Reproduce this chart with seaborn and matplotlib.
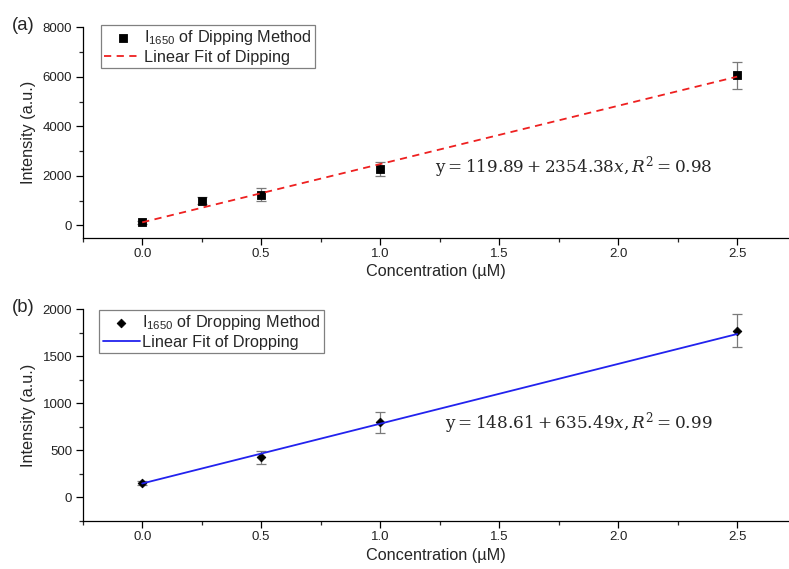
import numpy as np
import pandas as pd
import matplotlib
matplotlib.use("Agg")
import matplotlib.pyplot as plt
from matplotlib.ticker import MultipleLocator
import seaborn as sns

# Dipping method: I1650 intensity vs concentration
dip_conc = [0.0, 0.25, 0.5, 1.0, 2.5]
dip_int = [120, 1000, 1240, 2270, 6060]
dip_err = [50, 150, 270, 275, 540]
dip_fit = (119.89, 2354.38)
dip_r2 = 0.98

# Dropping method: I1650 intensity vs concentration
drop_conc = [0.0, 0.5, 1.0, 2.5]
drop_int = [155, 425, 798, 1772]
drop_err = [20, 70, 108, 174]
drop_fit = (148.61, 635.49)
drop_r2 = 0.99

sns.set_style("ticks")
plt.rcParams["font.family"] = ["Liberation Sans", "DejaVu Sans"]
plt.rcParams["mathtext.fontset"] = "dejavuserif"

W, H = 789, 569
fig = plt.figure(figsize=(W / 100, H / 100), dpi=100)


def px_axes(left, top, right, bottom):
    return fig.add_axes([left / W, 1 - bottom / H, (right - left) / W, (bottom - top) / H])


ax_a = px_axes(82.7, 27.3, 789, 237.7)
ax_b = px_axes(82.7, 309.3, 789, 521.0)


def draw_panel(ax, conc, inten, err, fit, r2, marker, msize, line_color, line_style,
               pt_label, fit_label, ylim, ymajor, panel, legend_anchor, eq_y):
    df = pd.DataFrame({"Concentration": conc, "Intensity": inten})
    ax.errorbar(conc, inten, yerr=err, fmt="none", ecolor="#7a7a7a",
                elinewidth=0.9, capsize=3.5, capthick=0.9, zorder=2)
    sns.scatterplot(data=df, x="Concentration", y="Intensity", ax=ax, marker=marker,
                    s=msize ** 2, color="black", edgecolor="black", linewidth=0.6,
                    label=pt_label, zorder=3)
    xs = np.array([min(conc), max(conc)])
    fit_df = pd.DataFrame({"Concentration": xs, "Intensity": fit[0] + fit[1] * xs})
    sns.lineplot(data=fit_df, x="Concentration", y="Intensity", ax=ax,
                 color=line_color, linestyle=line_style, linewidth=1.3,
                 label=fit_label, zorder=4)

    ax.set_xlim(-0.25, 2.718)
    ax.set_ylim(*ylim)
    ax.xaxis.set_major_locator(MultipleLocator(0.5))
    ax.xaxis.set_minor_locator(MultipleLocator(0.25))
    ax.yaxis.set_major_locator(MultipleLocator(ymajor))
    ax.yaxis.set_minor_locator(MultipleLocator(ymajor / 2))
    ax.xaxis.set_major_formatter(matplotlib.ticker.FormatStrFormatter("%.1f"))
    ax.tick_params(which="major", direction="out", length=5, width=0.9,
                   labelsize=9.5, colors="black", labelcolor="#222222", pad=2.5)
    ax.tick_params(which="minor", direction="out", length=3, width=0.9)
    sns.despine(ax=ax)
    for s in ("left", "bottom"):
        ax.spines[s].set_linewidth(0.9)
        ax.spines[s].set_color("black")

    ax.set_xlabel("Concentration (\u00b5M)", fontsize=11.7, labelpad=3)
    ax.set_ylabel("Intensity (a.u.)", fontsize=11.7, labelpad=5)

    leg = ax.legend(loc="upper left", bbox_to_anchor=legend_anchor, borderaxespad=0,
                    fontsize=11.7, frameon=True, fancybox=False, framealpha=1,
                    edgecolor="#808080", handlelength=2.3, handletextpad=0.15,
                    borderpad=0.2, labelspacing=0.15)
    leg.get_frame().set_linewidth(0.9)

    eq = (r"$\mathrm{y}=%.2f+%.2fx,R^{2}=%.2f$" % (fit[0], fit[1], r2))
    ax.text(713 / W, 1 - eq_y / H, eq, transform=fig.transFigure, ha="right",
            va="center", fontsize=12.2)
    fig.text(23 / W, 1 - panel[1] / H, panel[0], ha="center", va="center", fontsize=13.3)


draw_panel(ax_a, dip_conc, dip_int, dip_err, dip_fit, dip_r2, "s", 5.2, "#ee2020", (0, (4, 3)),
           r"I$_{\mathregular{1650}}$ of Dipping Method", "Linear Fit of Dipping",
           (-500, 8000), 2000, ("(a)", 25), (0.0255, 1.011), 166.7)
draw_panel(ax_b, drop_conc, drop_int, drop_err, drop_fit, drop_r2, "D", 4.4, "#2222ee", "-",
           r"I$_{\mathregular{1650}}$ of Dropping Method", "Linear Fit of Dropping",
           (-250, 2000), 500, ("(b)", 307.7), (0.0235, 0.9967), 423.3)

fig.savefig("out.png", dpi=100)
